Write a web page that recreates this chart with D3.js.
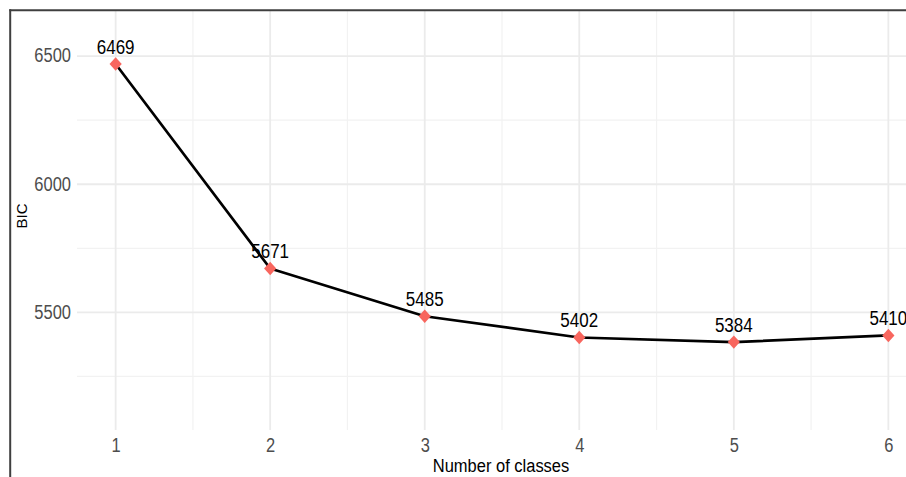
<!DOCTYPE html>
<html>
<head>
<meta charset="utf-8">
<script src="https://cdn.jsdelivr.net/npm/d3@7"></script>
<style>
  body { margin: 0; background: #fff; }
  text { font-family: "Liberation Sans", Arial, sans-serif; }
</style>
</head>
<body>
<svg id="chart" width="906" height="477"></svg>
<script>
  var width = 906, height = 477

  // data
  var classes = [1, 2, 3, 4, 5, 6]
  var bic = [6469, 5671, 5485, 5402, 5384, 5410]
  var yTicks = [5500, 6000, 6500]
  var yMinor = [5250, 5750, 6250]
  var xMinor = [1.5, 2.5, 3.5, 4.5, 5.5]
  var xLimits = [0.75, 6.25]
  var yLimits = [5041, 6676]

  var panel = {left: 77, right: 927, top: 11, bottom: 430}
  var stretch = 1.18 // the digits in the picture are drawn a bit tall

  var svg = d3.select("#chart")

  var x = d3.scaleLinear().domain(xLimits).range([panel.left, panel.right])
  var y = d3.scaleLinear().domain(yLimits).range([panel.bottom, panel.top])

  var grid = svg.append("g")

  // minor grid
  grid.selectAll(".ymin").data(yMinor).enter().append("line")
    .attr("x1", panel.left).attr("x2", panel.right)
    .attr("y1", function(d) { return y(d) }).attr("y2", function(d) { return y(d) })
    .attr("stroke", "#f2f2f2").attr("stroke-width", 1.2)
  grid.selectAll(".xmin").data(xMinor).enter().append("line")
    .attr("y1", panel.top).attr("y2", panel.bottom)
    .attr("x1", function(d) { return x(d) }).attr("x2", function(d) { return x(d) })
    .attr("stroke", "#f2f2f2").attr("stroke-width", 1.2)

  // major grid
  grid.selectAll(".ymaj").data(yTicks).enter().append("line")
    .attr("x1", panel.left).attr("x2", panel.right)
    .attr("y1", function(d) { return y(d) }).attr("y2", function(d) { return y(d) })
    .attr("stroke", "#ebebeb").attr("stroke-width", 1.8)
  grid.selectAll(".xmaj").data(classes).enter().append("line")
    .attr("y1", panel.top).attr("y2", panel.bottom)
    .attr("x1", function(d) { return x(d) }).attr("x2", function(d) { return x(d) })
    .attr("stroke", "#ebebeb").attr("stroke-width", 1.8)

  // axes (no domain lines, no ticks, like theme_minimal)
  var yAxis = svg.append("g")
    .attr("transform", "translate(" + (panel.left - 5) + ",0)")
    .call(d3.axisLeft(y).tickValues(yTicks).tickFormat(d3.format("d")).tickSize(0).tickPadding(1))
  var xAxis = svg.append("g")
    .attr("transform", "translate(0," + panel.bottom + ")")
    .call(d3.axisBottom(x).tickValues(classes).tickFormat(d3.format("d")).tickSize(0))
  svg.selectAll(".domain").remove()
  svg.selectAll(".tick text")
    .attr("fill", "#4d4d4d")
    .attr("transform", "scale(1," + stretch + ")")
    .style("font-size", "16.5px")
    .style("font-family", "'Liberation Sans', Arial, sans-serif")
  yAxis.selectAll(".tick text").attr("dy", "0.3em")
  xAxis.selectAll(".tick text").attr("dy", 0).attr("y", 22 / stretch)

  // axis titles
  svg.append("text")
    .attr("transform", "translate(501,472) scale(1,1.07)")
    .attr("text-anchor", "middle")
    .style("font-size", "16.5px")
    .attr("fill", "#000")
    .text("Number of classes")
  svg.append("text")
    .attr("transform", "translate(27,216) rotate(-90)")
    .attr("text-anchor", "middle")
    .style("font-size", "15px")
    .attr("fill", "#000")
    .text("BIC")

  // line
  var pts = classes.map(function(c, i) { return {k: c, v: bic[i]} })
  var line = d3.line()
    .x(function(d) { return x(d.k) })
    .y(function(d) { return y(d.v) })
  svg.append("path")
    .datum(pts)
    .attr("d", line)
    .attr("fill", "none")
    .attr("stroke", "#000")
    .attr("stroke-width", 2.7)
    .attr("stroke-linejoin", "round")

  // points (diamonds)
  svg.selectAll(".pt").data(pts).enter().append("path")
    .attr("d", d3.symbol().type(d3.symbolDiamond2).size(95))
    .attr("transform", function(d) { return "translate(" + x(d.k) + "," + y(d.v) + ") scale(1,1.1)" })
    .attr("fill", "#F8665E")

  // labels
  svg.selectAll(".lab").data(pts).enter().append("text")
    .attr("transform", function(d) { return "translate(" + x(d.k) + "," + (y(d.v) - 10.5) + ") scale(1," + stretch + ")" })
    .attr("text-anchor", "middle")
    .style("font-size", "17px")
    .attr("fill", "#000")
    .text(function(d) { return d.v })

  // frame (left and top edges of the screenshot)
  svg.append("line").attr("x1", 10.2).attr("x2", 10.2).attr("y1", 9.3).attr("y2", height)
    .attr("stroke", "#3f3f3f").attr("stroke-width", 2)
  svg.append("line").attr("x1", 9.3).attr("x2", width).attr("y1", 10.2).attr("y2", 10.2)
    .attr("stroke", "#3f3f3f").attr("stroke-width", 2)
</script>
</body>
</html>
